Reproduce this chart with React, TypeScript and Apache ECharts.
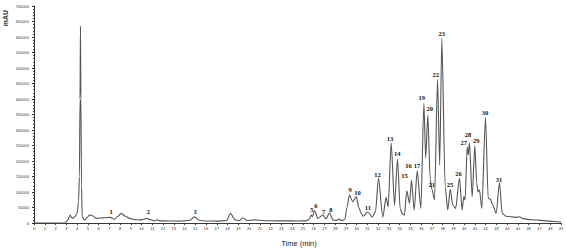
import React, { useEffect, useRef } from "react";
import * as echarts from "echarts";

const times = [
  0, 2.9, 3.14, 3.36, 3.5, 3.61, 3.85, 4.01, 4.14, 4.22, 4.28, 4.32, 4.36, 4.42, 4.48, 4.7, 4.95, 5.16, 5.4, 5.78,
  6.2, 6.6, 7.08, 7.48, 7.8, 8.1, 8.5, 8.88, 9.4, 9.8, 10.2, 10.49, 10.8, 11.2, 11.42, 11.7, 12.5, 13.5, 14.0, 14.5,
  14.9, 15.4, 16, 17, 17.9, 18.27, 18.7, 19.1, 19.42, 19.8, 20.5, 21.5, 22.5, 23.5, 24.5, 25.3, 25.6, 25.77, 25.9, 26.08,
  26.4, 26.86, 27.15, 27.48, 27.8, 28.1, 28.35, 28.6, 28.9, 29.1, 29.33, 29.64, 29.96, 30.2, 30.42, 30.6, 31.04, 31.45, 31.75, 32.03,
  32.43, 32.74, 32.93, 33.21, 33.52, 33.8, 34.05, 34.23, 34.44, 34.66, 34.92, 35.1, 35.35, 35.63, 35.97, 36.25, 36.42, 36.62, 36.84, 37.02,
  37.24, 37.52, 37.72, 37.92, 38.23, 38.47, 38.7, 38.94, 39.2, 39.56, 39.81, 39.96, 40.08, 40.28, 40.38, 40.49, 40.74, 40.99, 41.17, 41.28,
  41.42, 41.64, 41.98, 42.23, 42.42, 42.66, 42.97, 43.28, 43.53, 43.9, 44.4, 44.83, 45.1, 45.5, 46.0, 46.7, 47.5, 48.3, 49,
];

const intensity = [
  0, 0, 9700, 25800, 18000, 15000, 22000, 31000, 68700, 150000, 400000, 635000, 400000, 120000, 20000, 9700, 18000, 25800, 24000, 15000,
  16000, 17000, 18000, 12000, 22000, 31000, 22000, 15000, 11000, 9700, 12000, 15000, 11000, 7000, 10000, 7000, 6500, 6000, 7000, 9000,
  20000, 8000, 6500, 6000, 8000, 31000, 10000, 8000, 17000, 8000, 10000, 7500, 7000, 7000, 6500, 7000, 12000, 25800, 20000, 39700,
  15000, 25800, 13000, 33200, 10000, 8000, 13000, 8000, 12000, 50000, 90300, 68700, 85000, 50000, 31000, 22000, 35500, 19000, 36000, 144000,
  19000, 83000, 52000, 259000, 58000, 205500, 45000, 31000, 25000, 104000, 63500, 138700, 42000, 168700, 47000, 386000, 210000, 348000, 138700, 106500,
  74000, 463500, 187000, 596000, 117000, 42000, 108700, 58000, 47000, 144000, 42000, 85000, 74000, 246000, 220000, 259000, 85000, 249000, 128000, 100000,
  106500, 47000, 341000, 80000, 77000, 58000, 31000, 130000, 31000, 22000, 20000, 18000, 20000, 14000, 11000, 9700, 7000, 5000, 4000,
];

const peakNumbers = [
  "1", "2", "3", "5", "6", "7", "8", "9", "10", "11", "12", "13", "14", "15", "16", "17", "19", "20", "21", "22",
  "23", "25", "26", "27", "28", "29", "30", "31",
];
const labelTimes = [
  7.17, 10.64, 14.97, 25.84, 26.21, 26.92, 27.61, 29.4, 30.08, 31.04, 31.94, 33.09, 33.77, 34.45, 34.82, 35.62, 36.06, 36.8, 36.99, 37.36,
  37.92, 38.69, 39.46, 39.96, 40.36, 41.13, 41.94, 43.24,
];
const labelValues = [
  38700, 38700, 38700, 44200, 55800, 38700, 44200, 106500, 97700, 50600, 158000, 271000, 222600, 152600, 184800, 184800, 404200, 370000, 122600, 479700,
  612000, 122600, 160300, 259000, 283900, 267700, 355800, 141900,
];

export default function App() {
  const ref = useRef<HTMLDivElement>(null);
  useEffect(() => {
    if (!ref.current) return;
    const chart = echarts.init(ref.current, undefined, { renderer: "svg" });
    chart.setOption({
      animation: false,
      backgroundColor: "#ffffff",
      grid: { left: 34, right: 6, top: 6, bottom: 27 },
      xAxis: {
        type: "value",
        min: 0,
        max: 49,
        interval: 1,
        splitLine: { show: false },
        axisLine: { lineStyle: { color: "#333", width: 1 } },
        axisTick: { length: 2, lineStyle: { color: "#333" } },
        minorTick: { show: true, splitNumber: 4, length: 1, lineStyle: { color: "#444" } },
        axisLabel: { fontSize: 4, color: "#333", margin: 3, fontFamily: "Arial" },
      },
      yAxis: {
        type: "value",
        min: 0,
        max: 700000,
        interval: 50000,
        splitLine: { show: false },
        axisLine: { show: true, lineStyle: { color: "#333", width: 1 } },
        axisTick: { show: true, length: 2, lineStyle: { color: "#333" } },
        minorTick: { show: true, splitNumber: 5, length: 1, lineStyle: { color: "#444" } },
        axisLabel: {
          fontSize: 4,
          color: "#333",
          margin: 5,
          fontFamily: "Arial",
          formatter: (v: number) => String(v),
        },
      },
      graphic: [
        {
          type: "text",
          x: 5,
          y: 18,
          rotation: Math.PI / 2,
          style: { text: "mAU", font: "bold 7px Arial", fill: "#222", textAlign: "center", textVerticalAlign: "middle" },
        },
        {
          type: "text",
          x: 299,
          y: 243,
          style: { text: "Time (min)", font: "7.5px Arial", fill: "#222", textAlign: "center", textVerticalAlign: "middle" },
        },
      ],
      series: [
        {
          type: "line",
          data: times.map((t, i) => [t, intensity[i]]),
          symbol: "none",
          smooth: 0.25,
          smoothMonotone: "x",
          lineStyle: { color: "#555", width: 1.1 },
          z: 2,
        },
        {
          type: "scatter",
          data: labelTimes.map((t, i) => ({ value: [t, labelValues[i]], name: peakNumbers[i] })),
          symbolSize: 1,
          itemStyle: { color: "rgba(0,0,0,0)" },
          label: {
            show: true,
            position: "inside",
            formatter: "{b}",
            fontSize: 6.5,
            fontWeight: "bold",
            fontFamily: "Liberation Serif",
            color: "#111",
            opacity: 1,
          },
          z: 3,
        },
      ],
    });
    return () => chart.dispose();
  }, []);
  return <div ref={ref} style={{ position: "fixed", left: 0, top: 0, width: 567, height: 250 }} />;
}
